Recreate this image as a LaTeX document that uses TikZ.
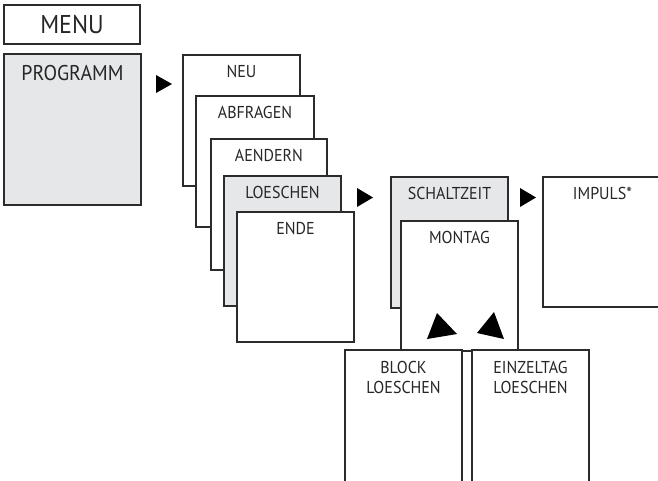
\documentclass[tikz,border=0pt]{standalone}
\usepackage{fontspec}
\setmainfont[FakeStretch=0.93]{PT Sans}
\definecolor{boxgray}{HTML}{E6E7E8}
\definecolor{edge}{HTML}{2B2B2B}
\newcommand\boxnode[6]{%
  \node[box, fill=#6, minimum width={(#4-#2)*0.75pt}, minimum height={(#5-#3)*0.75pt}]
    (#1) at ({(#2+#4)/2},{(#3+#5)/2}) {};}
\begin{document}
\begin{tikzpicture}[x=0.75pt,y=-0.75pt,
  box/.style={draw=edge, line width=0.9pt, inner sep=0pt, outer sep=0pt, rectangle},
  lbl/.style={font=\fontsize{12.9pt}{15pt}\selectfont, text=black!85, inner sep=0pt, anchor=base, align=center},
  tri/.style={fill=black}]
\useasboundingbox (0,0) rectangle (658,480);
\clip (0,0) rectangle (658,480);
% menu column
\boxnode{neu}{183}{55}{300}{186}{white}
\boxnode{abf}{196}{96}{314}{227}{white}
\boxnode{aen}{211}{139}{327}{270}{white}
\boxnode{loe}{224}{176}{341}{306}{boxgray}
\boxnode{ende}{237}{212}{354}{342}{white}
\node[lbl] (neut) at (241.5,77) {NEU};
\node[lbl] (abft) at (255,118) {ABFRAGEN};
\node[lbl] (aent) at (269,161) {AENDERN};
\node[lbl] (loet) at (282.5,198) {LOESCHEN};
\node[lbl] (endet) at (295.5,234) {ENDE};
% schaltzeit column
\boxnode{sch}{391}{177}{508}{308}{boxgray}
\boxnode{mon}{401}{221}{518}{351}{white}
\boxnode{blk}{345}{350}{462}{500}{white}
\boxnode{ein}{472}{350}{589}{500}{white}
\boxnode{imp}{543}{177}{662}{307}{white}
\node[lbl] (scht) at (449.5,199) {SCHALTZEIT};
\node[lbl] (mont) at (459.5,243) {MONTAG};
\node[lbl] (blkt) at (403.5,393) {BLOCK\\LOESCHEN};
\node[lbl] (eint) at (530.5,393) {EINZELTAG\\LOESCHEN};
\node[lbl] (impt) at (602.5,199) {IMPULS*};
% programm / menu
\boxnode{prog}{4}{54}{141}{205}{boxgray}
\boxnode{menu}{4}{5}{140}{44}{white}
\node[lbl, font=\fontsize{16pt}{18pt}\selectfont] (progt) at (72.5,80) {PROGRAMM};
\node[lbl, font=\fontsize{19.3pt}{22pt}\selectfont] (menut) at (72,33) {MENU};
% triangles
\fill[tri] (156,75) -- (172,84) -- (156,93) -- cycle;
\fill[tri] (357,188) -- (373,197.5) -- (357,207) -- cycle;
\fill[tri] (520,188) -- (536,197.5) -- (520,207) -- cycle;
\fill[tri] (437,313) -- (457,334) -- (427,339) -- cycle;
\fill[tri] (494,312) -- (504,339) -- (477,333) -- cycle;
\end{tikzpicture}
\end{document}
